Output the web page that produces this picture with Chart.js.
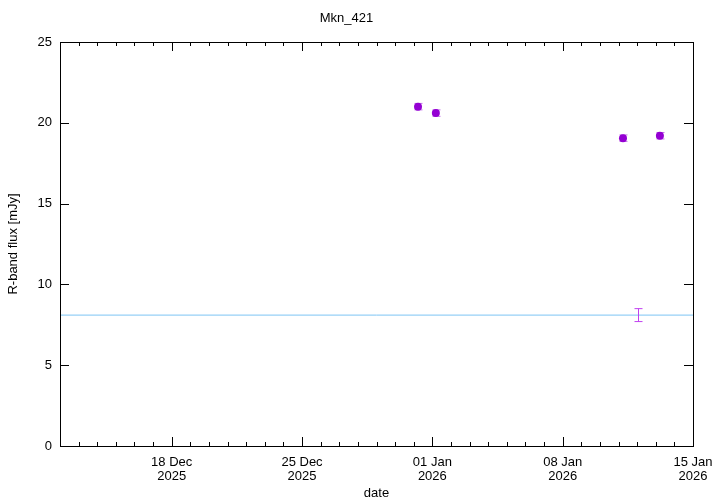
<!DOCTYPE html>
<html>
<head>
<meta charset="utf-8">
<script src="https://cdn.jsdelivr.net/npm/chart.js@4"></script>
<style>
  html, body { margin: 0; padding: 0; background: #fff; }
  #wrap { width: 720px; height: 504px; }
</style>
</head>
<body>
<div id="wrap"><canvas id="lc"></canvas></div>
<script>
// observations (UTC)
var obsDates = ['2025-12-31T05:30:00Z', '2026-01-01T04:30:00Z', '2026-01-11T05:45:00Z', '2026-01-13T05:20:00Z'];
var fluxValues = [21.0, 20.6, 19.05, 19.2];
var fluxErrors = [0.2, 0.2, 0.2, 0.2];

// reference level and its error bar
var refLevel = 8.1;
var refDate = '2026-01-12T01:00:00Z';
var refError = 0.4;

var xStart = '2025-12-12T00:00:00Z';
var xEnd = '2026-01-15T00:00:00Z';
var majorTickDates = ['2025-12-18T00:00:00Z', '2025-12-25T00:00:00Z', '2026-01-01T00:00:00Z', '2026-01-08T00:00:00Z', '2026-01-15T00:00:00Z'];
var yTicks = [0, 5, 10, 15, 20, 25];

var DAY = 86400000;
var months = ['Jan','Feb','Mar','Apr','May','Jun','Jul','Aug','Sep','Oct','Nov','Dec'];
var FONT = "'Liberation Sans', Arial, sans-serif";

var points = [];
for (var i = 0; i < obsDates.length; i++) {
    points.push({x: Date.parse(obsDates[i]), y: fluxValues[i], err: fluxErrors[i]});
}
var xMin = Date.parse(xStart), xMax = Date.parse(xEnd);

function dateLabel(ms) {
    var d = new Date(ms);
    var dd = d.getUTCDate();
    return [(dd < 10 ? '0' : '') + dd + ' ' + months[d.getUTCMonth()], String(d.getUTCFullYear())];
}

var gnuplotFrame = {
    id: 'gnuplotFrame',
    afterDatasetsDraw: function(chart) {
        var ctx = chart.ctx, a = chart.chartArea;
        var xs = chart.scales.x, ys = chart.scales.y;
        ctx.save();
        // error bars of observations
        ctx.strokeStyle = 'rgba(148,0,211,0.55)';
        ctx.lineWidth = 1;
        points.forEach(function(p) {
            var px = Math.round(xs.getPixelForValue(p.x)) + 0.5;
            var y1 = ys.getPixelForValue(p.y - p.err), y2 = ys.getPixelForValue(p.y + p.err);
            ctx.beginPath();
            ctx.moveTo(px, y1); ctx.lineTo(px, y2);
            ctx.moveTo(px - 4, y1); ctx.lineTo(px + 4, y1);
            ctx.moveTo(px - 4, y2); ctx.lineTo(px + 4, y2);
            ctx.stroke();
        });
        // reference error bar
        var rx = Math.round(xs.getPixelForValue(Date.parse(refDate))) + 0.5;
        var r1 = ys.getPixelForValue(refLevel - refError), r2 = ys.getPixelForValue(refLevel + refError);
        ctx.strokeStyle = '#c040f0';
        ctx.beginPath();
        ctx.moveTo(rx, r1); ctx.lineTo(rx, r2);
        ctx.moveTo(rx - 4, r1); ctx.lineTo(rx + 4, r1);
        ctx.moveTo(rx - 4, r2); ctx.lineTo(rx + 4, r2);
        ctx.stroke();

        // frame and inward ticks
        ctx.strokeStyle = '#000';
        ctx.lineWidth = 1;
        ctx.strokeRect(Math.round(a.left) + 0.5, Math.round(a.top) + 0.5, Math.round(a.right - a.left), Math.round(a.bottom - a.top));
        ctx.beginPath();
        for (var t = xMin; t <= xMax; t += DAY) {
            var major = majorTickDates.indexOf(new Date(t).toISOString().replace('.000', '')) >= 0;
            var len = major ? 9 : 4;
            var x = Math.round(xs.getPixelForValue(t)) + 0.5;
            ctx.moveTo(x, a.bottom); ctx.lineTo(x, a.bottom - len);
            ctx.moveTo(x, a.top); ctx.lineTo(x, a.top + len);
        }
        yTicks.forEach(function(v) {
            var y = Math.round(ys.getPixelForValue(v)) + 0.5;
            ctx.moveTo(a.left, y); ctx.lineTo(a.left + 9, y);
            ctx.moveTo(a.right, y); ctx.lineTo(a.right - 9, y);
        });
        ctx.stroke();
        ctx.restore();
    }
};

new Chart(document.getElementById('lc'), {
    type: 'scatter',
    data: {
        datasets: [{
            label: 'Mkn_421',
            data: points,
            backgroundColor: '#9400d3',
            borderColor: '#9400d3',
            pointRadius: 4,
            pointBorderWidth: 0,
            order: 1
        }, {
            type: 'line',
            label: 'reference',
            data: [{x: xMin, y: refLevel}, {x: xMax, y: refLevel}],
            borderColor: '#7cc4f4',
            borderWidth: 1,
            pointRadius: 0,
            order: 2
        }]
    },
    options: {
        responsive: true,
        maintainAspectRatio: false,
        animation: false,
        layout: { padding: { left: 0, right: 27, top: 0, bottom: 0 } },
        plugins: {
            legend: { display: false },
            tooltip: { enabled: false },
            title: {
                display: true,
                text: 'Mkn_421',
                color: '#000',
                font: { family: FONT, size: 13, weight: 'normal', lineHeight: 1.2 },
                padding: { top: 11, bottom: 15.4 }
            }
        },
        scales: {
            x: {
                type: 'linear',
                min: xMin,
                max: xMax,
                afterBuildTicks: function(scale) {
                    scale.ticks = majorTickDates.map(function(d) { return {value: Date.parse(d)}; });
                },
                afterFit: function(scale) {
                    scale.height = 58;
                    scale.paddingLeft = 0;
                    scale.paddingRight = 0;
                },
                grid: { display: false, drawTicks: false },
                border: { display: false },
                ticks: {
                    autoSkip: false,
                    maxRotation: 0,
                    padding: 9,
                    color: '#000',
                    font: { family: FONT, size: 13, lineHeight: 1.08 },
                    callback: function(v) { return dateLabel(v); }
                },
                title: {
                    display: true,
                    text: 'date',
                    color: '#000',
                    font: { family: FONT, size: 13, lineHeight: 1.2 },
                    padding: { top: 0, bottom: 3 }
                }
            },
            y: {
                min: 0,
                max: 25,
                afterBuildTicks: function(scale) {
                    scale.ticks = yTicks.map(function(v) { return {value: v}; });
                },
                afterFit: function(scale) {
                    scale.width = 60;
                    scale.paddingTop = 0;
                    scale.paddingBottom = 0;
                },
                grid: { display: false, drawTicks: false },
                border: { display: false },
                ticks: {
                    padding: 8,
                    color: '#000',
                    font: { family: FONT, size: 13 }
                },
                title: {
                    display: true,
                    text: 'R-band flux [mJy]',
                    color: '#000',
                    font: { family: FONT, size: 13, lineHeight: 1.2 },
                    padding: { top: 6, bottom: 0 }
                }
            }
        }
    },
    plugins: [gnuplotFrame]
});
</script>
</body>
</html>
